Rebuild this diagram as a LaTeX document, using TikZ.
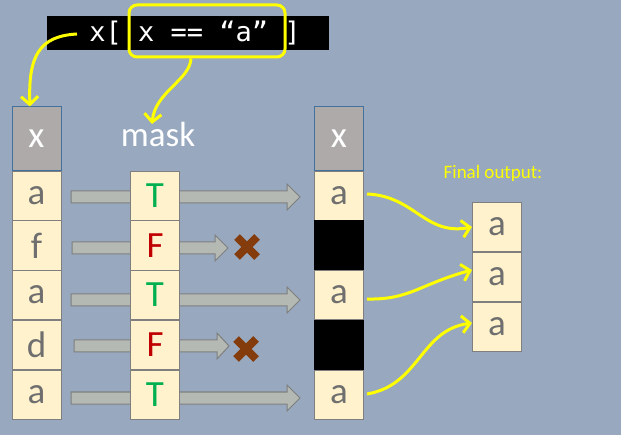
\documentclass[tikz,border=0pt]{standalone}
\usepackage{fontspec}
\setmainfont{Carlito}
\newfontfamily\codefont{DejaVu Sans Mono}
\usetikzlibrary{arrows.meta}
\definecolor{bg}{HTML}{97A8BF}
\definecolor{cellfill}{HTML}{FFF2CC}
\definecolor{cellline}{HTML}{7F7F7F}
\definecolor{hdrfill}{HTML}{AEAAAA}
\definecolor{hdrline}{HTML}{41719C}
\definecolor{txtgray}{HTML}{6F6F6F}
\definecolor{tgreen}{HTML}{00B050}
\definecolor{fred}{HTML}{C00000}
\definecolor{xbrown}{HTML}{843C0C}
\definecolor{garrowfill}{HTML}{B4B9B3}
\definecolor{garrowline}{HTML}{7F7F7F}
\definecolor{yel}{HTML}{FFFF00}
\tikzset{
  cellbox/.style={draw=cellline, fill=cellfill, line width=1pt, minimum width=49pt, minimum height=49.8pt, inner sep=0pt, text=txtgray, font=\fontsize{37}{37}\selectfont},
  hdrbox/.style={draw=hdrline, fill=hdrfill, line width=1pt, minimum width=49pt, minimum height=64pt, inner sep=0pt, text=white, font=\fontsize{37}{37}\selectfont},
  blackbox/.style={fill=black, minimum width=50pt, minimum height=50pt, inner sep=0pt},
  tval/.style={text=tgreen},
  fval/.style={text=fred},
  garrow/.style={fill=garrowfill, draw=garrowline, line width=1pt},
  xmark/.style={draw=xbrown, line width=8pt},
  yarrow/.style={draw=yel, line width=3pt, -{Straight Barb[length=8pt,width=17pt,line width=3pt]}},
}
\newcommand\grayarrow[4]{% x0, xhead, xtip, yc
  \path[garrow] (#1,#4-6) -- (#2,#4-6) -- (#2,#4-13) -- (#3,#4) -- (#2,#4+13) -- (#2,#4+6) -- (#1,#4+6) -- cycle;}
\begin{document}
\begin{tikzpicture}[x=1pt,y=-1pt]
\fill[bg] (0,0) rectangle (621,435);
\useasboundingbox (0,0) rectangle (621,435);

% code bar
\fill[black] (47,16) rectangle (329,50);
\node[text=white, font=\codefont\fontsize{27}{27}\selectfont, inner sep=0pt, anchor=center] (code) at (195,33) {x[ x == “a” ]};
\node[draw=yel, line width=3pt, rounded corners=8pt, minimum width=156pt, minimum height=52pt, inner sep=0pt] (cond) at (207,31) {};

% gray block arrows (behind mask column)
\grayarrow{71}{287}{300}{197}
\grayarrow{72}{215}{228}{248}
\grayarrow{71}{287}{300}{300}
\grayarrow{74}{217}{229}{346}
\grayarrow{71}{287}{300}{398}

% x marks
\draw[xmark] (237,237) -- (257,257) (257,237) -- (237,257);
\draw[xmark] (236,339) -- (256,359) (256,339) -- (236,359);

% left column
\node[hdrbox] (L0) at (36.5,139) {x};
\node[cellbox] (L1) at (36.5,196) {a};
\node[cellbox] (L2) at (36.5,245.5) {f};
\node[cellbox] (L3) at (36.5,295) {a};
\node[cellbox] (L4) at (36.5,345) {d};
\node[cellbox] (L5) at (36.5,395) {a};

% mask column
\node[text=white, font=\fontsize{35}{35}\selectfont, inner sep=0pt] (mask) at (158,134) {mask};
\node[cellbox, tval] (M1) at (155,196) {T};
\node[cellbox, fval] (M2) at (155,245.5) {F};
\node[cellbox, tval] (M3) at (155,295) {T};
\node[cellbox, fval] (M4) at (155,345) {F};
\node[cellbox, tval] (M5) at (155,395) {T};

% result column
\node[hdrbox] (R0) at (339,139) {x};
\node[cellbox] (R1) at (339,196) {a};
\node[blackbox] (R2) at (339,245.5) {};
\node[cellbox] (R3) at (339,295) {a};
\node[blackbox] (R4) at (339,345) {};
\node[cellbox] (R5) at (339,395) {a};

% final output
\node[text=yel, font=\fontsize{19}{19}\selectfont, inner sep=0pt] (flabel) at (493,173) {Final output:};
\node[cellbox] (F1) at (497,227) {a};
\node[cellbox] (F2) at (497,277) {a};
\node[cellbox] (F3) at (497,327) {a};

% yellow arrows
\coordinate (c1) at (77,34);
\draw[yarrow] (c1) .. controls (40,36) and (28,55) .. (L0.north -| 30,0);
\draw[yarrow] (cond.south -| 191,0) .. controls (190,80) and (155,92) .. (152,124);
\draw[yarrow] (367,194) .. controls (415,196) and (425,236) .. (F1.west);
\draw[yarrow] (367,299) .. controls (410,300) and (420,284) .. ([yshift=7pt]F2.west);
\draw[yarrow] (367,394) .. controls (420,385) and (420,330) .. ([yshift=4pt]F3.west);
\end{tikzpicture}
\end{document}
